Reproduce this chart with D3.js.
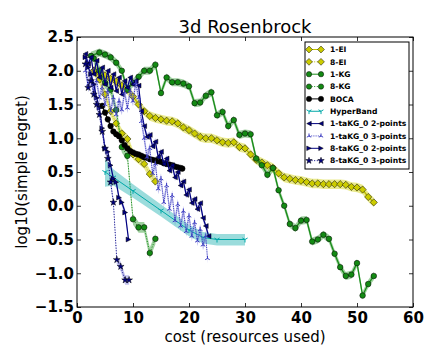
<!DOCTYPE html>
<html>
<head>
<meta charset="utf-8">
<script src="https://cdn.jsdelivr.net/npm/d3@7"></script>
<style>
  body { margin: 0; background: #fff; }
  svg { display: block; font-family: "DejaVu Sans", sans-serif; }
  .axis text { font-family: "DejaVu Sans", sans-serif; font-size: 15px; font-weight: 700; fill: #000; }
</style>
</head>
<body>
<svg id="chart" width="441" height="364"></svg>
<script>
// values
const xTicks = [0, 10, 20, 30, 40, 50, 60];
const yTicks = [-1.5, -1.0, -0.5, 0.0, 0.5, 1.0, 1.5, 2.0, 2.5];

const ei1X = [3,4,5,6,7,8,9,10,11,12,13,14,15,16,17,18,19,20,21,22,23,24,25,26,27,28,29,30,31,32,33,34,35,36,37,38,39,40,41,42,43,44,45,46,47,48,49,50,51,52,53];
const ei1Y = [2.0,1.97,1.93,1.88,1.84,1.78,1.72,1.62,1.5,1.4,1.33,1.3,1.28,1.26,1.25,1.22,1.16,1.12,1.07,1.02,1.0,1.0,0.97,0.94,0.93,0.94,0.87,0.85,0.76,0.68,0.64,0.6,0.56,0.48,0.42,0.4,0.38,0.37,0.35,0.33,0.33,0.32,0.32,0.32,0.32,0.31,0.28,0.27,0.24,0.13,0.05];

const ei8X = [3,4,5,6,7,8,9,10,11,12,13,14];
const ei8Y = [2.0,1.87,1.65,1.4,1.22,1.07,0.99,0.76,0.69,0.62,0.47,0.36];

const kg1X = [2.5,4,5,6,7,8,9,10,11,12,13,14,15,16,17,18,19,20,21,22,23,24,25,26,27,28,29,30,31,32,33,34,35,36,37,38,39,40,41,42,43,44,45,46,47,48,49,50,51,52,53];
const kg1Y = [2.22,2.27,2.24,2.2,2.12,2.0,1.72,1.82,1.91,2.0,2.0,2.09,1.67,1.9,1.83,1.83,1.81,1.77,1.52,1.53,1.63,1.68,1.34,1.39,1.18,1.27,1.05,1.07,1.06,0.7,0.6,0.46,0.56,0.23,0.0,-0.27,-0.33,-0.22,-0.21,-0.53,-0.5,-0.43,-0.49,-0.71,-0.91,-1.04,-1.02,-0.85,-1.33,-1.16,-1.04];

const kg8X = [3,4,5,6,7,8,9,10,11,12,13,14];
const kg8Y = [2.18,2.0,1.82,1.72,1.42,0.87,0.74,-0.2,-0.32,-0.32,-0.7,-0.49];

const bocaX = [4.5,5,5.5,6,6.5,7,7.5,8,8.5,9,9.5,10,10.5,11,11.5,12,12.5,13,13.5,14,14.5,15,15.5,16,16.5,17,17.5,18,18.5,18.8];
const bocaY = [1.48,1.38,1.28,1.18,1.1,1.06,1.03,0.97,0.9,0.85,0.81,0.79,0.77,0.76,0.74,0.72,0.71,0.69,0.68,0.67,0.66,0.65,0.63,0.62,0.61,0.6,0.58,0.57,0.56,0.55];

const hbX = [5,6.5,10,15,20,22.5,25,30];
const hbY = [0.5,0.42,0.22,-0.07,-0.36,-0.47,-0.5,-0.5];
const hbLo = [0.28,0.3,0.12,-0.16,-0.45,-0.56,-0.59,-0.59];
const hbHi = [0.7,0.54,0.32,0.02,-0.28,-0.39,-0.42,-0.42];

const t1p2X = [1.5,2,2.5,3,3.5,4,4.5,5,5.5,6,6.5,7,7.5,8,8.5,9,9.5,10,10.5,11,11.5,12,12.5,13,13.5,14,14.5,15,15.5,16,16.5,17,17.5,18,18.5,19,19.5,20,20.5,21,21.5,22,22.5,23,23.5];
const t1p2Y = [2.25,2.1,2.2,1.95,2.15,1.9,2.05,1.8,2.0,1.75,1.95,1.7,1.9,1.65,1.85,1.75,1.9,1.8,1.85,1.78,1.4,1.18,1.02,1.05,0.88,0.95,0.72,0.8,0.62,0.7,0.52,0.6,0.42,0.5,0.3,0.36,0.16,0.24,0.04,0.1,-0.05,0.04,-0.18,-0.3,-0.45];

const t1p3X = [1.5,2,2.5,3,3.5,4,4.5,5,5.5,6,6.5,7,7.5,8,8.5,9,9.5,10,10.5,11,11.5,12,12.5,13,13.5,14,14.5,15,15.5,16,16.5,17,17.5,18,18.5,19,19.5,20,20.5,21,21.5,22,22.5,23,23.3];
const t1p3Y = [2.0,1.8,1.95,1.7,1.85,1.6,1.75,1.5,1.7,1.4,1.6,1.35,1.55,1.42,1.68,1.45,1.7,1.55,1.82,1.6,1.25,1.0,0.72,0.85,0.48,0.62,0.25,0.4,0.05,0.3,-0.05,0.15,-0.22,0.02,-0.3,-0.08,-0.38,-0.15,-0.45,-0.25,-0.52,-0.35,-0.58,-0.45,-0.78];

const t8p2X = [1.5,2,2.5,3,3.5,4,4.5,5,5.5,6,6.5,7,7.5,8,8.6,9.2];
const t8p2Y = [2.2,2.05,1.95,1.8,1.6,1.45,1.15,0.85,0.8,0.6,0.4,0.35,0.12,0.05,-0.1,-0.5];

const t8p3X = [1.5,2,2.5,3,3.5,4,4.5,5,5.5,6,6.5,7.1,7.8,8.6,9.3];
const t8p3Y = [2.1,1.75,1.85,1.65,1.5,1.35,1.1,0.85,0.7,0.35,0.05,-0.8,-0.9,-1.1,-1.1];

const W = 441, H = 364;
const margin = { top: 37, right: 28, bottom: 57, left: 77 };
const width = W - margin.left - margin.right;
const height = H - margin.top - margin.bottom;

const svg = d3.select('#chart');
const g = svg.append('g').attr('transform', `translate(${margin.left},${margin.top})`);

const x = d3.scaleLinear().domain([0, 60]).range([0, width]);
const y = d3.scaleLinear().domain([-1.5, 2.5]).range([height, 0]);

g.append('clipPath').attr('id', 'clip')
    .append('rect').attr('width', width).attr('height', height);

// marker shapes, roughly matplotlib's
function markerPath(type, s) {
    switch (type) {
        case 'D': return `M0,${-s}L${s},0L0,${s}L${-s},0Z`;
        case 'o': return d3.symbol(d3.symbolCircle, Math.PI * s * s)();
        case '<': return `M${-s},0L${s},${-s}L${s},${s}Z`;
        case '>': return `M${s},0L${-s},${-s}L${-s},${s}Z`;
        case '*': return d3.symbol(d3.symbolStar, s * s * 1.6)();
        case '1': return `M0,0L0,${s}M0,0L${-0.87 * s},${-0.5 * s}M0,0L${0.87 * s},${-0.5 * s}`;
        case '2': return `M0,0L0,${-s}M0,0L${-0.87 * s},${0.5 * s}M0,0L${0.87 * s},${0.5 * s}`;
    }
}

const series = [
    { name: '1-EI', xs: ei1X, ys: ei1Y, spread: 0.07, color: '#bfbf00', face: '#cccc00', band: '#d0d000', alpha: 0.45, marker: 'D', size: 3.6, dash: null, lw: 1.5 },
    { name: '8-EI', xs: ei8X, ys: ei8Y, spread: 0.07, color: '#bfbf00', face: '#cccc00', band: '#d0d000', alpha: 0.45, marker: 'D', size: 3.6, dash: '1,1.6', lw: 1 },
    { name: '1-KG', xs: kg1X, ys: kg1Y, spread: 0.06, color: '#1a8c1a', face: '#138a13', band: '#2a9a2a', alpha: 0.45, marker: 'o', size: 2.8, dash: null, lw: 1.3 },
    { name: '8-KG', xs: kg8X, ys: kg8Y, spread: 0.08, color: '#1a8c1a', face: '#138a13', band: '#2a9a2a', alpha: 0.45, marker: 'o', size: 2.8, dash: '1,1.6', lw: 1 },
    { name: 'BOCA', xs: bocaX, ys: bocaY, spread: 0, color: '#000', face: '#000', band: null, alpha: 0, marker: 'o', size: 2.8, dash: null, lw: 1.3 },
    { name: 'HyperBand', xs: hbX, ys: hbY, lo: hbLo, hi: hbHi, color: '#00a8a8', face: '#00a8a8', band: '#22b2b2', alpha: 0.45, marker: '1', size: 3, dash: null, lw: 1 },
    { name: '1-taKG_0 2-points', xs: t1p2X, ys: t1p2Y, spread: 0.05, color: '#000080', face: '#000080', band: '#5555cc', alpha: 0.4, marker: '<', size: 2.4, dash: null, lw: 1.2 },
    { name: '1-taKG_0 3-points', xs: t1p3X, ys: t1p3Y, spread: 0.08, color: '#3a3ac0', face: '#3a3ac0', band: '#6a6ad8', alpha: 0.4, marker: '2', size: 2.6, dash: '1,1.2', lw: 1 },
    { name: '8-taKG_0 2-points', xs: t8p2X, ys: t8p2Y, spread: 0.05, color: '#000080', face: '#000080', band: '#5555cc', alpha: 0.4, marker: '>', size: 2.4, dash: null, lw: 1.2 },
    { name: '8-taKG_0 3-points', xs: t8p3X, ys: t8p3Y, spread: 0.07, color: '#000080', face: '#000080', band: '#6a6ad8', alpha: 0.4, marker: '*', size: 3, dash: '1,1.6', lw: 1 }
];

const plot = g.append('g').attr('clip-path', 'url(#clip)');

series.forEach(s => {
    const pts = s.xs.map((v, i) => ({
        x: v, y: s.ys[i],
        lo: s.lo ? s.lo[i] : s.ys[i] - s.spread,
        hi: s.hi ? s.hi[i] : s.ys[i] + s.spread
    }));
    if (s.band) {
        plot.append('path')
            .datum(pts)
            .attr('d', d3.area().x(d => x(d.x)).y0(d => y(d.lo)).y1(d => y(d.hi)))
            .style('fill', s.band)
            .style('fill-opacity', s.alpha)
            .style('stroke', 'none');
    }
    plot.append('path')
        .datum(pts)
        .attr('d', d3.line().x(d => x(d.x)).y(d => y(d.y)))
        .style('fill', 'none')
        .style('stroke', s.color)
        .style('stroke-width', s.lw)
        .style('stroke-dasharray', s.dash);
    const open = s.marker === '1' || s.marker === '2';
    plot.selectAll(null)
        .data(pts)
        .enter().append('path')
        .attr('transform', d => `translate(${x(d.x)},${y(d.y)})`)
        .attr('d', markerPath(s.marker, s.size))
        .style('fill', open ? 'none' : s.face)
        .style('stroke', open ? s.color : '#000')
        .style('stroke-width', open ? 1 : 0.5);
});

// axes, ticks pointing inward on all four sides
const bottomAxis = g.append('g')
    .attr('class', 'axis')
    .attr('transform', `translate(0,${height})`)
    .call(d3.axisBottom(x).tickValues(xTicks).tickSize(-4).tickPadding(5).tickFormat(d3.format('d')));
const leftAxis = g.append('g')
    .attr('class', 'axis')
    .call(d3.axisLeft(y).tickValues(yTicks).tickSize(-4).tickPadding(3).tickFormat(d3.format('.1f')));
g.append('g')
    .call(d3.axisTop(x).tickValues(xTicks).tickSize(-4).tickFormat(''));
g.append('g')
    .attr('transform', `translate(${width},0)`)
    .call(d3.axisRight(y).tickValues(yTicks).tickSize(-4).tickFormat(''));

[bottomAxis, leftAxis].forEach(a => a.attr('font-family', null).attr('font-size', null));
g.selectAll('.domain').remove();
g.selectAll('.tick line').style('stroke', '#000').style('stroke-width', 0.8);

g.append('rect')
    .attr('width', width).attr('height', height)
    .style('fill', 'none').style('stroke', '#000').style('stroke-width', 1);

// title and labels
svg.append('text')
    .attr('x', margin.left + width / 2).attr('y', 33)
    .attr('text-anchor', 'middle')
    .style('font-size', '18px')
    .text('3d Rosenbrock');

svg.append('text')
    .attr('x', margin.left + width / 2).attr('y', 342)
    .attr('text-anchor', 'middle')
    .style('font-size', '15px')
    .text('cost (resources used)');

svg.append('text')
    .attr('transform', `translate(27,${margin.top + height / 2}) rotate(-90)`)
    .attr('text-anchor', 'middle')
    .style('font-size', '15px')
    .text('log10(simple regret)');

// legend
const legend = svg.append('g').attr('transform', 'translate(305,42)');
legend.append('rect')
    .attr('width', 104).attr('height', 127)
    .style('fill', '#fff').style('stroke', '#000').style('stroke-width', 1);

series.forEach((s, i) => {
    const row = legend.append('g').attr('transform', `translate(0,${7.5 + i * 12.35})`);
    row.append('line')
        .attr('x1', 4).attr('x2', 16)
        .style('stroke', s.color).style('stroke-width', 1)
        .style('stroke-dasharray', s.dash);
    const open = s.marker === '1' || s.marker === '2';
    [4, 16].forEach(mx => {
        row.append('path')
            .attr('transform', `translate(${mx},0)`)
            .attr('d', markerPath(s.marker, s.size * 0.95))
            .style('fill', open ? 'none' : s.face)
            .style('stroke', open ? s.color : '#000')
            .style('stroke-width', open ? 1 : 0.5);
    });
    row.append('text')
        .attr('x', 25).attr('dy', '0.35em')
        .style('font-size', '7.6px')
        .style('font-weight', 'bold')
        .text(s.name);
});
</script>
</body>
</html>
